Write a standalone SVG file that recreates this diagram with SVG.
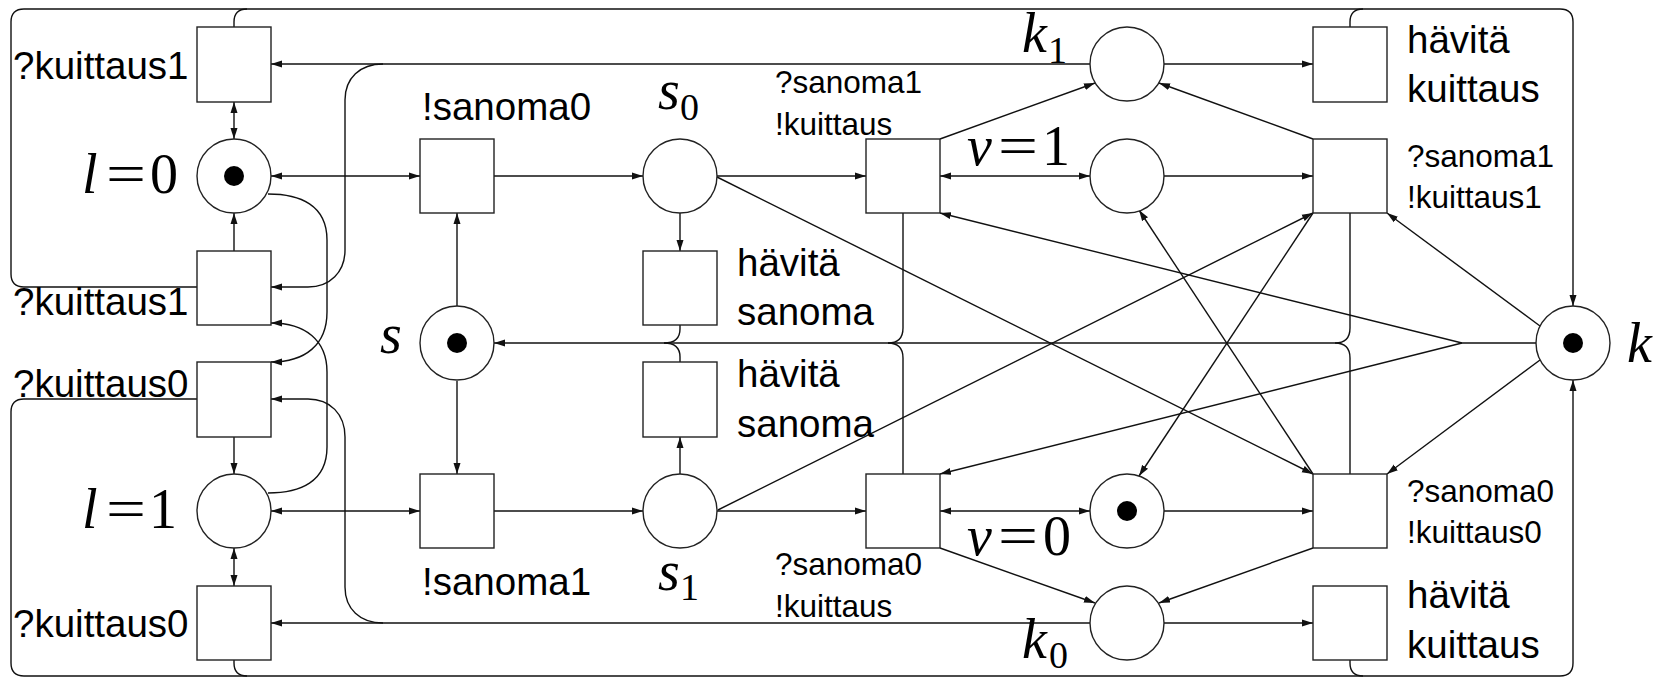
<svg xmlns="http://www.w3.org/2000/svg" width="1655" height="678" viewBox="0 0 1655 678">
<style>
.n{fill:#fff;stroke:#222;stroke-width:1.4}
.tk{fill:#000}
.c path{fill:none;stroke:#111;stroke-width:1.4}
.e{marker-end:url(#a)}
.b{marker-start:url(#a);marker-end:url(#a)}
.t{font-family:"Liberation Sans",Arial,sans-serif;font-size:38.5px;fill:#000}
.s{font-family:"Liberation Sans",Arial,sans-serif;font-size:31.5px;fill:#000}
.m{font-family:"Liberation Serif","Times New Roman",serif;font-size:56px;fill:#000}
.i{font-style:italic}
.sub{font-family:"Liberation Serif","Times New Roman",serif;font-size:38px;fill:#000}
</style>
<defs>
<marker id="a" markerWidth="12" markerHeight="8" refX="11" refY="4" orient="auto-start-reverse" markerUnits="userSpaceOnUse"><path d="M0,0.5 L11,4 L0,7.5 z" fill="#111"/></marker>
</defs>
<g id="connectors" class="c">
<path class="b" d="M234,102 V139"/>
<path class="e" d="M234,251 V213"/>
<path class="b" d="M271,176 H420"/>
<path class="e" d="M268,194 C300,194 327,205 327,240 V312 C327,345 305,362 271,362"/>
<path class="e" d="M268,493 C300,493 327,482 327,447 V372 C327,340 305,323 271,323"/>
<path class="e" d="M234,437 V474"/>
<path class="b" d="M234,548 V586"/>
<path class="b" d="M271,511 H420"/>
<path class="e" d="M1090,64 H271"/>
<path class="e" d="M383,64 C360,64 345,78 345,100 V250 C345,272 330,287 308,287 H271"/>
<path class="e" d="M1090,623 H271"/>
<path class="e" d="M383,623 C360,623 345,609 345,587 V437 C345,414 330,399 308,399 H271"/>
<path class="e" d="M197,287 H24 Q11,287 11,274 V22 Q11,9 24,9 H1560 Q1573,9 1573,22 V306"/>
<path d="M234,27 V22 Q234,9 247,9"/>
<path d="M1350,27 V22 Q1350,9 1363,9"/>
<path class="e" d="M197,399 H24 Q11,399 11,412 V663 Q11,676 24,676 H1560 Q1573,676 1573,663 V380"/>
<path d="M234,660 V663 Q234,676 247,676"/>
<path d="M1350,660 V663 Q1350,676 1363,676"/>
<path class="e" d="M494,176 H643"/>
<path class="e" d="M457,306 V213"/>
<path class="e" d="M457,381 V474"/>
<path class="e" d="M494,511 H643"/>
<path class="e" d="M680,213 V251"/>
<path class="e" d="M680,474 V437"/>
<path class="e" d="M1335,343 H494"/>
<path d="M680,325 V329 Q680,343 664,343"/>
<path d="M680,362 V357 Q680,343 664,343"/>
<path d="M903,213 V328 Q903,343 888,343"/>
<path d="M903,474 V358 Q903,343 888,343"/>
<path d="M1350,213 V328 Q1350,343 1335,343"/>
<path d="M1350,474 V358 Q1350,343 1335,343"/>
<path class="e" d="M717,176 H866"/>
<path class="e" d="M717,511 H866"/>
<path class="e" d="M717,177 L1313,474"/>
<path class="e" d="M718,510 L1313,213"/>
<path class="b" d="M940,176 H1090"/>
<path class="b" d="M940,511 H1090"/>
<path class="e" d="M940,139 L1095,83"/>
<path class="e" d="M940,548 L1095,603"/>
<path class="e" d="M1164,176 H1313"/>
<path class="e" d="M1164,511 H1313"/>
<path class="e" d="M1313,139 L1159,83"/>
<path class="e" d="M1313,548 L1159,603"/>
<path class="e" d="M1313,213 L1139,476"/>
<path class="e" d="M1313,474 L1139,210"/>
<path class="e" d="M1164,64 H1313"/>
<path class="e" d="M1164,623 H1313"/>
<path class="e" d="M1540,326 L1387,213"/>
<path class="e" d="M1540,360 L1387,474"/>
<path class="e" d="M1536,343 H1462 L940,213"/>
<path class="e" d="M1462,343 L940,474"/>
</g>
<g id="T1"><rect class="n" x="197" y="27" width="74" height="75"/><text class="t" x="13" y="79">?kuittaus1</text></g>
<g id="l0"><circle class="n" cx="234" cy="176" r="37"/><circle class="tk" cx="234" cy="176" r="10"/>
<text class="m i" x="82" y="193">l</text><text class="m" x="106" y="193" textLength="40" lengthAdjust="spacingAndGlyphs">=</text><text class="m" x="150" y="193">0</text></g>
<g id="T2"><rect class="n" x="197" y="251" width="74" height="74"/><text class="t" x="13" y="315">?kuittaus1</text></g>
<g id="T3"><rect class="n" x="197" y="362" width="74" height="75"/><text class="t" x="13" y="397">?kuittaus0</text></g>
<g id="l1"><circle class="n" cx="234" cy="511" r="37"/>
<text class="m i" x="82" y="528">l</text><text class="m" x="106" y="528" textLength="40" lengthAdjust="spacingAndGlyphs">=</text><text class="m" x="149" y="528">1</text></g>
<g id="T4"><rect class="n" x="197" y="586" width="74" height="74"/><text class="t" x="13" y="637">?kuittaus0</text></g>
<g id="S0send"><rect class="n" x="420" y="139" width="74" height="74"/><text class="t" x="422" y="120">!sanoma0</text></g>
<g id="S"><circle class="n" cx="457" cy="343" r="37"/><circle class="tk" cx="457" cy="343" r="10"/><text class="m i" x="380" y="353">s</text></g>
<g id="S1send"><rect class="n" x="420" y="474" width="74" height="74"/><text class="t" x="422" y="595">!sanoma1</text></g>
<g id="s0"><circle class="n" cx="680" cy="176" r="37"/><text class="m i" x="658" y="109">s</text><text class="sub" x="680" y="120">0</text></g>
<g id="s1"><circle class="n" cx="680" cy="511" r="37"/><text class="m i" x="658" y="590">s</text><text class="sub" x="680" y="600">1</text></g>
<g id="hs1"><rect class="n" x="643" y="251" width="74" height="74"/><text class="t" x="737" y="276">hävitä</text><text class="t" x="737" y="325">sanoma</text></g>
<g id="hs2"><rect class="n" x="643" y="362" width="74" height="75"/><text class="t" x="737" y="387">hävitä</text><text class="t" x="737" y="437">sanoma</text></g>
<g id="R1"><rect class="n" x="866" y="139" width="74" height="74"/><text class="s" x="775" y="93">?sanoma1</text><text class="s" x="775" y="135">!kuittaus</text></g>
<g id="R2"><rect class="n" x="866" y="474" width="74" height="74"/><text class="s" x="775" y="575">?sanoma0</text><text class="s" x="775" y="617">!kuittaus</text></g>
<g id="k1"><circle class="n" cx="1127" cy="64" r="37"/><text class="m i" x="1022" y="52" font-size="52">k</text><text class="sub" x="1048" y="63" font-size="36">1</text></g>
<g id="v1"><circle class="n" cx="1127" cy="176" r="37"/>
<text class="m i" x="967" y="165">v</text><text class="m" x="998" y="165" textLength="40" lengthAdjust="spacingAndGlyphs">=</text><text class="m" x="1042" y="165">1</text></g>
<g id="v0"><circle class="n" cx="1127" cy="511" r="37"/><circle class="tk" cx="1127" cy="511" r="10"/>
<text class="m i" x="967" y="555">v</text><text class="m" x="998" y="555" textLength="40" lengthAdjust="spacingAndGlyphs">=</text><text class="m" x="1043" y="555">0</text></g>
<g id="k0"><circle class="n" cx="1127" cy="623" r="37"/><text class="m i" x="1022" y="658" font-size="52">k</text><text class="sub" x="1049" y="668" font-size="36">0</text></g>
<g id="hk1"><rect class="n" x="1313" y="27" width="74" height="75"/><text class="t" x="1407" y="53">hävitä</text><text class="t" x="1407" y="102">kuittaus</text></g>
<g id="R3"><rect class="n" x="1313" y="139" width="74" height="74"/><text class="s" x="1407" y="167">?sanoma1</text><text class="s" x="1407" y="208">!kuittaus1</text></g>
<g id="R4"><rect class="n" x="1313" y="474" width="74" height="74"/><text class="s" x="1407" y="502">?sanoma0</text><text class="s" x="1407" y="543">!kuittaus0</text></g>
<g id="hk2"><rect class="n" x="1313" y="586" width="74" height="74"/><text class="t" x="1407" y="608">hävitä</text><text class="t" x="1407" y="658">kuittaus</text></g>
<g id="K"><circle class="n" cx="1573" cy="343" r="37"/><circle class="tk" cx="1573" cy="343" r="10"/><text class="m i" x="1627" y="362">k</text></g>
</svg>
